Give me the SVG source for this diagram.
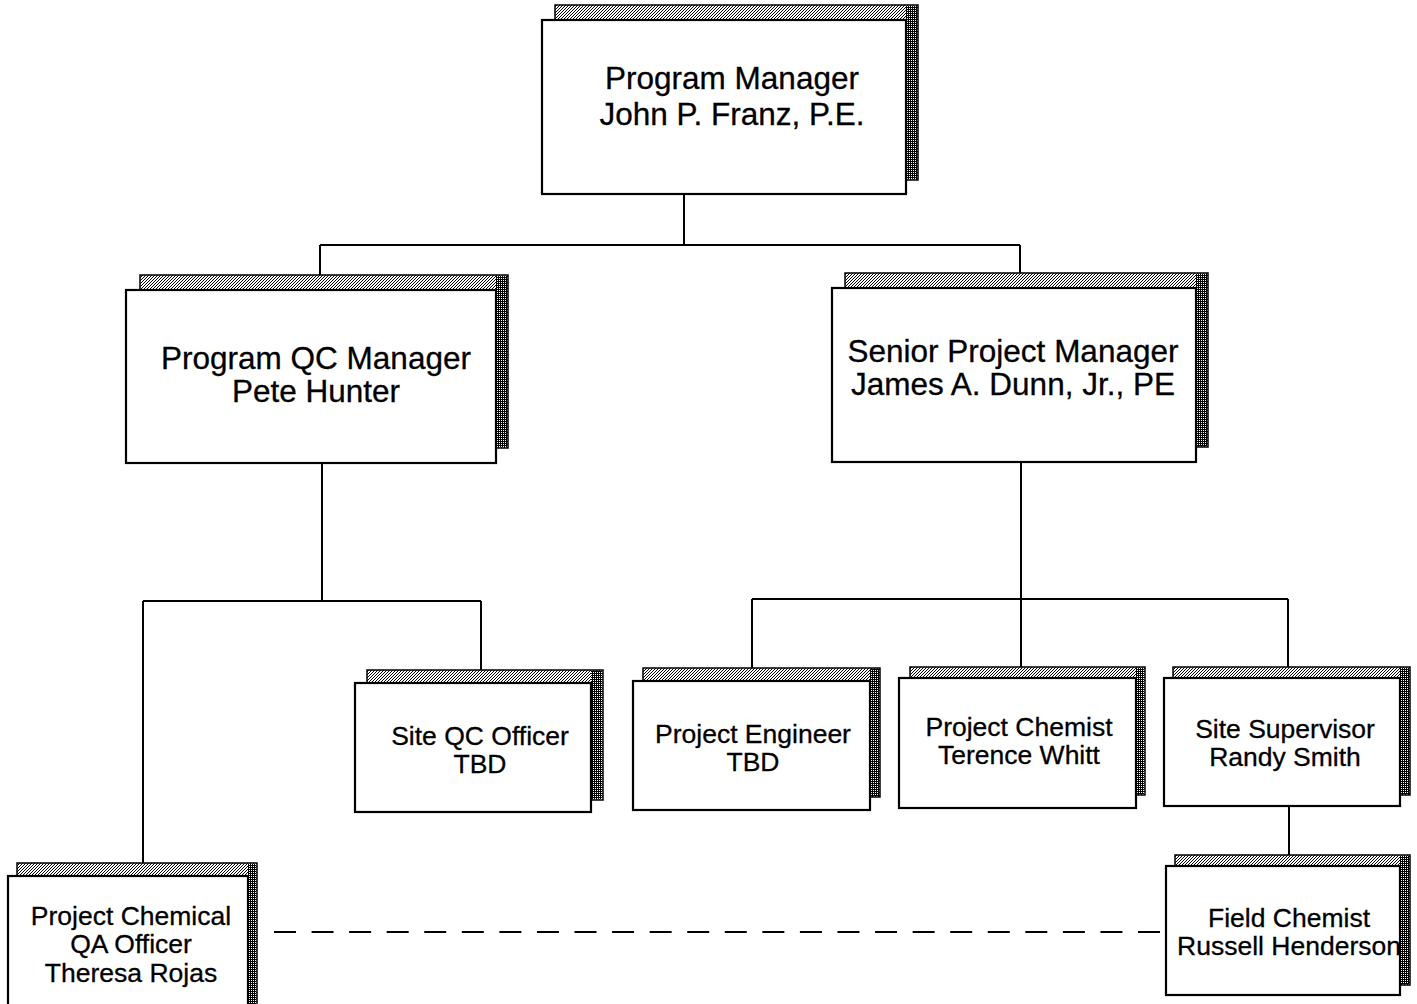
<svg xmlns="http://www.w3.org/2000/svg" width="1417" height="1004" viewBox="0 0 1417 1004">
<defs>
<pattern id="lt" width="3" height="3" patternUnits="userSpaceOnUse">
<rect width="3" height="3" fill="#fff"/>
<rect x="0" y="0" width="1" height="1" fill="#000"/>
<rect x="2" y="1" width="1" height="1" fill="#000"/>
<rect x="1" y="2" width="1" height="1" fill="#000"/>
</pattern>
<pattern id="dk" width="2" height="2" patternUnits="userSpaceOnUse">
<rect width="2" height="2" fill="#000"/>
<rect x="1" y="0" width="1" height="1" fill="#fff"/>
</pattern>
</defs>
<style>
.sh{fill:url(#lt);stroke:#000;stroke-width:1.5}
.shr{fill:url(#dk)}
.bx{fill:#fff;stroke:#000;stroke-width:2.2}
.ln{stroke:#000;stroke-width:2;fill:none}
.dash{stroke:#000;stroke-width:2;fill:none;stroke-dasharray:22 15.565}
text{font-family:"Liberation Sans",Arial,sans-serif;fill:#000;text-anchor:middle;stroke:#000;stroke-width:0.3}
.b{font-size:31.5px}
.s{font-size:26.5px}
</style>
<rect width="1417" height="1004" fill="#fff"/>
<g id="connectors">
<path class="ln" d="M684 194V245M320 245H1020M320 245V275M1020 245V273"/>
<path class="ln" d="M322 463V601M143 601H481M143 601V863M481 601V670"/>
<path class="ln" d="M1021 462V667M752 599H1288M752 599V668M1288 599V667"/>
<path class="ln" d="M1289 806V855"/>
<path class="dash" d="M274 932H1160"/>
</g>
<g id="program-manager">
<rect class="sh" x="555" y="5" width="363" height="175"/>
<rect class="shr" x="906" y="6" width="11" height="173"/>
<rect class="bx" x="542" y="20" width="364" height="174"/>
<text class="b" x="732" y="89">Program Manager</text>
<text class="b" x="732" y="125">John P. Franz, P.E.</text>
</g>
<g id="program-qc-manager">
<rect class="sh" x="140" y="275" width="368" height="173"/>
<rect class="shr" x="496" y="276" width="11" height="171"/>
<rect class="bx" x="126" y="290" width="370" height="173"/>
<text class="b" x="316" y="369">Program QC Manager</text>
<text class="b" x="316" y="402">Pete Hunter</text>
</g>
<g id="senior-project-manager">
<rect class="sh" x="845" y="273" width="363" height="174"/>
<rect class="shr" x="1196" y="274" width="11" height="172"/>
<rect class="bx" x="832" y="288" width="364" height="174"/>
<text class="b" x="1013" y="362">Senior Project Manager</text>
<text class="b" x="1013" y="395">James A. Dunn, Jr., PE</text>
</g>
<g id="site-qc-officer">
<rect class="sh" x="367" y="670" width="236" height="130"/>
<rect class="shr" x="591" y="671" width="11" height="128"/>
<rect class="bx" x="355" y="683" width="236" height="129"/>
<text class="s" x="480" y="745">Site QC Officer</text>
<text class="s" x="480" y="773">TBD</text>
</g>
<g id="project-engineer">
<rect class="sh" x="643" y="668" width="237" height="129"/>
<rect class="shr" x="870" y="669" width="9" height="127"/>
<rect class="bx" x="633" y="681" width="237" height="129"/>
<text class="s" x="753" y="743">Project Engineer</text>
<text class="s" x="753" y="771">TBD</text>
</g>
<g id="project-chemist">
<rect class="sh" x="910" y="667" width="235" height="128"/>
<rect class="shr" x="1136" y="668" width="8" height="126"/>
<rect class="bx" x="899" y="678" width="237" height="130"/>
<text class="s" x="1019" y="736">Project Chemist</text>
<text class="s" x="1019" y="764">Terence Whitt</text>
</g>
<g id="site-supervisor">
<rect class="sh" x="1173" y="667" width="237" height="128"/>
<rect class="shr" x="1400" y="668" width="9" height="126"/>
<rect class="bx" x="1164" y="678" width="236" height="128"/>
<text class="s" x="1285" y="738">Site Supervisor</text>
<text class="s" x="1285" y="766">Randy Smith</text>
</g>
<g id="project-chemical-qa-officer">
<rect class="sh" x="17" y="863" width="240" height="150"/>
<rect class="shr" x="248" y="864" width="8" height="150"/>
<rect class="bx" x="8" y="876" width="240" height="140"/>
<text class="s" x="131" y="925">Project Chemical</text>
<text class="s" x="131" y="953">QA Officer</text>
<text class="s" x="131" y="982">Theresa Rojas</text>
</g>
<g id="field-chemist">
<rect class="sh" x="1175" y="855" width="235" height="130"/>
<rect class="shr" x="1400" y="856" width="9" height="128"/>
<rect class="bx" x="1166" y="866" width="234" height="129"/>
<text class="s" x="1289" y="927">Field Chemist</text>
<text class="s" x="1289" y="955">Russell Henderson</text>
</g>
</svg>
